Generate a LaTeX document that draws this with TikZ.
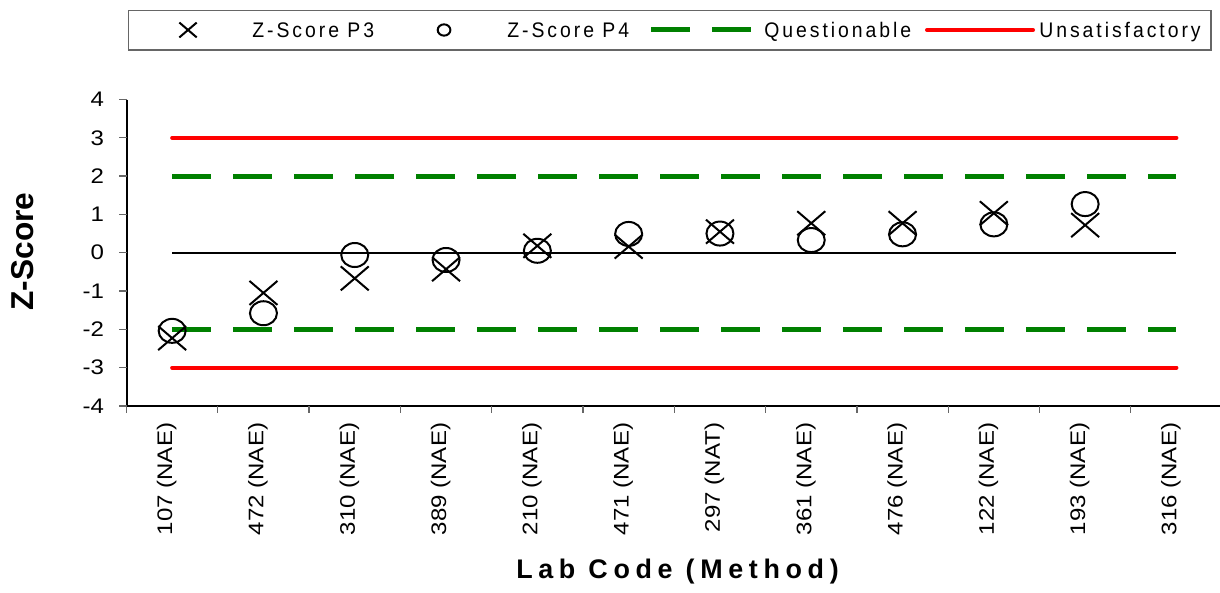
\documentclass[tikz,border=0pt]{standalone}
\usepackage{fontspec}
\setmainfont{Liberation Sans}
\newfontfamily\legendfont[LetterSpace=14,FakeStretch=0.92]{Liberation Sans}
\newfontfamily\tickfont[FakeStretch=1.14]{Liberation Sans}
\newfontfamily\titlefont[LetterSpace=21]{Liberation Sans}

\begin{document}
\begin{tikzpicture}[x=1.826cm,y=0.766cm,
  mk/.style={line width=0.04cm},
  pics/xsym/.style={code={\draw[mk] (-0.28cm,-0.24cm) -- (0.28cm,0.24cm) (-0.28cm,0.24cm) -- (0.28cm,-0.24cm);}},
  pics/osym/.style={code={\draw[mk] (0,0) ellipse [x radius=0.27cm,y radius=0.24cm];}},
  unsat/.style={red,line width=0.08cm,line cap=round},
  quest/.style={green!50!black,line width=0.1cm,dash pattern=on 0.78cm off 0.44cm},
  axtick/.style={black!60,line width=0.025cm},
  ticklab/.style={font=\tickfont\fontsize{12}{14}\selectfont,text=black,inner sep=0pt},
  legtext/.style={font=\legendfont\fontsize{12}{14}\selectfont,anchor=base west,inner sep=0pt}
]
  \useasboundingbox (-1.3856,-8.859) rectangle (11.977,6.598);

  % Legend
  \draw[black!60,line width=0.03cm] (0.021,5.292) rectangle (11.878,6.318);
  \pic[scale=0.62] at (0.674,5.815) {xsym};
  \node[legtext] (p3) at (1.375,5.624) {Z-Score P3};
  \pic[scale=0.47] at (3.478,5.815) {osym};
  \node[legtext] (p4) at (4.168,5.624) {Z-Score P4};
  \draw[quest] (5.745,5.815) -- (6.840,5.815);
  \node[legtext] (quest) at (6.983,5.624) {Questionable};
  \draw[unsat] (8.768,5.815) -- (9.929,5.815);
  \node[legtext] (unsat) at (9.995,5.624) {Unsatisfactory};

  % Limits and zero line
  \draw[unsat] (0.5,3) -- (11.5,3) (0.5,-3) -- (11.5,-3);
  \draw[quest] (0.5,2) -- (11.5,2) (0.5,-2) -- (11.5,-2);
  \draw[line width=0.045cm] (0.5,0) -- (11.5,0);

  % Axes
  \draw[line width=0.04cm] (0,4) -- (0,-4) -- (12,-4);
  \foreach \z in {-4,...,4}
    \draw[axtick] (0,\z) -- ++(-0.16cm,0) node[ticklab,anchor=east,xshift=-0.28cm] (y\z) {\z};
  \foreach \i in {0,...,11}
    \draw[axtick] (\i,-4) -- ++(0,-0.14cm);
  \foreach \lab [count=\i] in {107 (NAE),472 (NAE),310 (NAE),389 (NAE),210 (NAE),471 (NAE),
                               297 (NAT),361 (NAE),476 (NAE),122 (NAE),193 (NAE),316 (NAE)}
    \node[ticklab,rotate=90,anchor=base east,xshift=0.05cm] (lab\i) at (\i-0.5,-4.5) {\lab};

  % Scores: P3 crosses, P4 circles
  \foreach \i/\a/\b in {1/-2.23/-2.04,2/-1.05/-1.58,3/-0.67/-0.06,4/-0.43/-0.19,
                        5/0.18/0.05,6/0.16/0.49,7/0.55/0.50,8/0.77/0.33,
                        9/0.77/0.48,10/1.03/0.74,11/0.72/1.27}{
    \pic at (\i-0.5,\a) {xsym};
    \pic at (\i-0.5,\b) {osym};
  }

  % Axis titles
  \node[font=\bfseries\fontsize{18}{20}\selectfont,rotate=90,anchor=base] (ytitle) at (-1.024,0.03) {Z-Score};
  \node[font=\titlefont\bfseries\fontsize{15.3}{18}\selectfont,anchor=base] (xtitle) at (6.035,-8.496) {Lab Code (Method)};
\end{tikzpicture}
\end{document}
